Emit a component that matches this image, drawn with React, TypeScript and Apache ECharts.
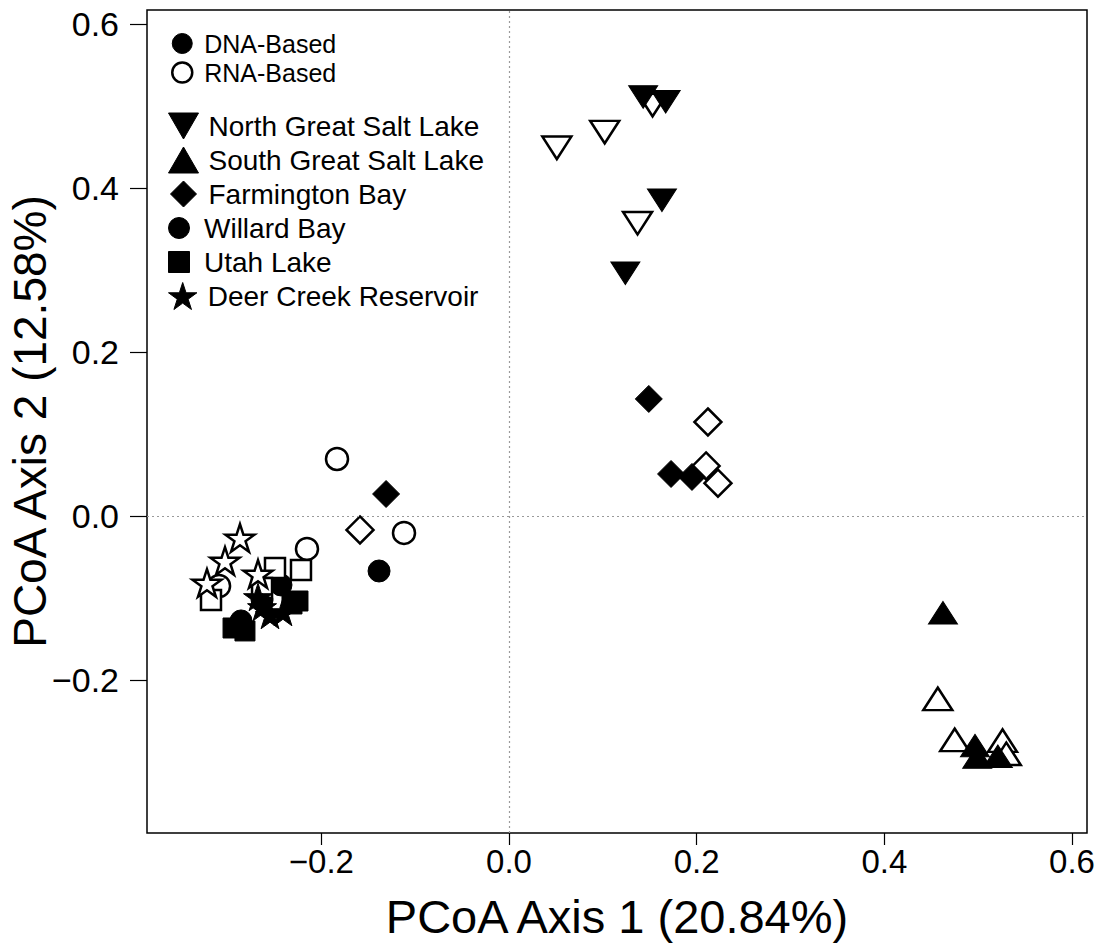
import React, { useEffect, useRef } from "react";
import * as echarts from "echarts";

// ---- data (PCoA coordinates) ----
const ngslDna: [number, number][] = [[0.143, 0.511], [0.167, 0.505], [0.163, 0.385], [0.124, 0.296]];
const ngslRna: [number, number][] = [[0.051, 0.449], [0.102, 0.468], [0.137, 0.357], [0.153, 0.501]];
const sgslDna: [number, number][] = [[0.4625, -0.118], [0.4966, -0.28], [0.499, -0.294], [0.521, -0.293]];
const sgslRna: [number, number][] = [[0.457, -0.223], [0.475, -0.273], [0.526, -0.274], [0.53, -0.29]];
const fbDna: [number, number][] = [[0.149, 0.1427], [0.1727, 0.0512], [0.195, 0.0476], [-0.131, 0.0268]];
const fbRna: [number, number][] = [[0.212, 0.1146], [0.21, 0.061], [0.2227, 0.04], [-0.1588, -0.017]];
const wbDna: [number, number][] = [[-0.1385, -0.0671], [-0.243, -0.0841], [-0.2856, -0.128], [-0.2632, -0.1024]];
const wbRna: [number, number][] = [[-0.1833, 0.0695], [-0.1119, -0.0207], [-0.2153, -0.0402], [-0.309, -0.0854]];
const ulDna: [number, number][] = [[-0.2941, -0.1366], [-0.2814, -0.1402], [-0.2313, -0.1073], [-0.2249, -0.1037]];
const ulRna: [number, number][] = [[-0.3176, -0.1024], [-0.2494, -0.0634], [-0.2217, -0.0659], [-0.2632, -0.0878]];
const dcDna: [number, number][] = [[-0.2675, -0.0988], [-0.2547, -0.1207], [-0.2409, -0.1171], [-0.2632, -0.111]];
const dcRna: [number, number][] = [[-0.2867, -0.0268], [-0.3027, -0.0549], [-0.3219, -0.0817], [-0.2675, -0.0707]];

const siteNames = [
  "North Great Salt Lake",
  "South Great Salt Lake",
  "Farmington Bay",
  "Willard Bay",
  "Utah Lake",
  "Deer Creek Reservoir",
];
const typeNames = ["DNA-Based", "RNA-Based"];
const xTicks = [-0.2, 0, 0.2, 0.4, 0.6];
const yTicks = [-0.2, 0, 0.2, 0.4, 0.6];

// ---- shapes ----
const DOWN_TRI = "path://M0,0L10,0L5,8.66Z";
const UP_TRI = "path://M5,0L10,8.66L0,8.66Z";
const DIAMOND = "path://M5,0L10,5L5,10L0,5Z";
const CIRCLE = "path://M5,0A5,5,0,1,1,5,10A5,5,0,1,1,5,0Z";
const SQUARE = "path://M0,0L10,0L10,10L0,10Z";
const STAR =
  "path://M50,0L61.2,34.5L97.6,34.5L68.2,55.9L79.4,90.5L50,69.1L20.6,90.5L31.8,55.9L2.4,34.5L38.8,34.5Z";

const FONT = "'Liberation Sans', Arial, Helvetica, sans-serif";

const fmt = (v: number) => {
  const s = Math.abs(v) < 1e-9 ? "0.0" : v.toFixed(1);
  return s.replace("-", "\u2212");
};

export default function App() {
  const ref = useRef<HTMLDivElement>(null);
  useEffect(() => {
    if (!ref.current) return;
    const chart = echarts.init(ref.current, undefined, { renderer: "svg" });

    const sites = [
      { name: siteNames[0], symbol: DOWN_TRI, size: [29, 26], dna: ngslDna, rna: ngslRna },
      { name: siteNames[1], symbol: UP_TRI, size: [29, 26], dna: sgslDna, rna: sgslRna },
      { name: siteNames[2], symbol: DIAMOND, size: [27, 27], dna: fbDna, rna: fbRna },
      { name: siteNames[3], symbol: CIRCLE, size: [22, 22], dna: wbDna, rna: wbRna },
      { name: siteNames[4], symbol: SQUARE, size: [20, 20], dna: ulDna, rna: ulRna },
      { name: siteNames[5], symbol: STAR, size: [29, 29], dna: dcDna, rna: dcRna },
    ];

    const openStyle = { color: "#ffffff", borderColor: "#000000", borderWidth: 2.5, opacity: 1 };
    const fillStyle = { color: "#000000", borderColor: "#000000", borderWidth: 1, opacity: 1 };

    const series: any[] = sites.map((s) => ({
      name: s.name,
      type: "scatter",
      symbol: s.symbol,
      symbolSize: s.size,
      symbolKeepAspect: true,
      itemStyle: fillStyle,
      emphasis: { disabled: true },
      data: [
        ...s.rna.map((p) => ({ value: p, itemStyle: openStyle })),
        ...s.dna.map((p) => ({ value: p, itemStyle: fillStyle })),
      ],
    }));

    // dummy series for the DNA / RNA legend entries
    series.push({ name: typeNames[0], type: "scatter", symbol: CIRCLE, itemStyle: fillStyle, data: [] });
    series.push({ name: typeNames[1], type: "scatter", symbol: CIRCLE, itemStyle: openStyle, data: [] });

    // zero reference lines
    series.push({
      type: "scatter",
      data: [],
      silent: true,
      markLine: {
        silent: true,
        symbol: "none",
        label: { show: false },
        lineStyle: { type: [2, 3], color: "#9a9a9a", width: 1.2 },
        data: [{ xAxis: 0 }, { yAxis: 0 }],
      },
    });

    const legendBase = {
      orient: "vertical",
      selectedMode: false,
      itemGap: 0,
      itemWidth: 40,
      textStyle: { fontFamily: FONT, fontSize: 28, color: "#000", lineHeight: 34 },
    };

    const option: any = {
      animation: false,
      backgroundColor: "#ffffff",
      textStyle: { fontFamily: FONT },
      grid: {
        left: 147,
        top: 10,
        right: 15,
        bottom: 116,
        show: true,
        containLabel: false,
        outerBoundsMode: "none",
        borderColor: "#000",
        borderWidth: 1.5,
        backgroundColor: "transparent",
      },
      xAxis: {
        type: "value",
        min: -0.3858,
        max: 0.616,
        name: "PCoA Axis 1 (20.84%)",
        nameLocation: "middle",
        nameGap: 60,
        nameTextStyle: { fontFamily: FONT, fontSize: 47, color: "#000" },
        axisLine: { show: false, onZero: false },
        splitLine: { show: false },
        axisTick: { show: true, length: 12, customValues: xTicks, lineStyle: { color: "#000", width: 1.2 } },
        axisLabel: {
          customValues: xTicks,
          formatter: fmt,
          fontFamily: FONT,
          fontSize: 33,
          color: "#000",
          margin: 12,
        },
      },
      yAxis: {
        type: "value",
        min: -0.3866,
        max: 0.617,
        name: "PCoA Axis 2 (12.58%)",
        nameLocation: "middle",
        nameGap: 94,
        nameMoveOverlap: false,
        nameTextStyle: { fontFamily: FONT, fontSize: 46, color: "#000", lineHeight: 46 },
        axisLine: { show: false, onZero: false },
        splitLine: { show: false },
        axisTick: { show: true, length: 17, customValues: yTicks, lineStyle: { color: "#000", width: 1.2 } },
        axisLabel: {
          customValues: yTicks,
          formatter: fmt,
          fontFamily: FONT,
          fontSize: 34,
          color: "#000",
          margin: 28,
        },
      },
      legend: [
        {
          ...legendBase,
          left: 166,
          top: 24,
          itemWidth: 34,
          itemHeight: 20,
          textStyle: { fontFamily: FONT, fontSize: 25, color: "#000", lineHeight: 29 },
          data: [
            { name: typeNames[0], icon: CIRCLE, itemStyle: fillStyle },
            { name: typeNames[1], icon: CIRCLE, itemStyle: openStyle },
          ],
        },
        {
          ...legendBase,
          left: 163,
          top: 104,
          itemHeight: 26,
          data: [
            { name: siteNames[0], icon: DOWN_TRI, itemStyle: fillStyle },
            { name: siteNames[1], icon: UP_TRI, itemStyle: fillStyle },
            { name: siteNames[2], icon: DIAMOND, itemStyle: fillStyle },
          ],
        },
        {
          ...legendBase,
          left: 163,
          top: 206,
          itemHeight: 21,
          data: [
            { name: siteNames[3], icon: CIRCLE, itemStyle: fillStyle },
            { name: siteNames[4], icon: SQUARE, itemStyle: fillStyle },
          ],
        },
        {
          ...legendBase,
          left: 163,
          top: 274,
          itemHeight: 27,
          data: [{ name: siteNames[5], icon: STAR, itemStyle: fillStyle }],
        },
      ],
      series,
    };

    chart.setOption(option);
    return () => chart.dispose();
  }, []);

  return (
    <div
      ref={ref}
      style={{ position: "absolute", left: 0, top: 0, width: 1102, height: 949, background: "#fff" }}
    />
  );
}
